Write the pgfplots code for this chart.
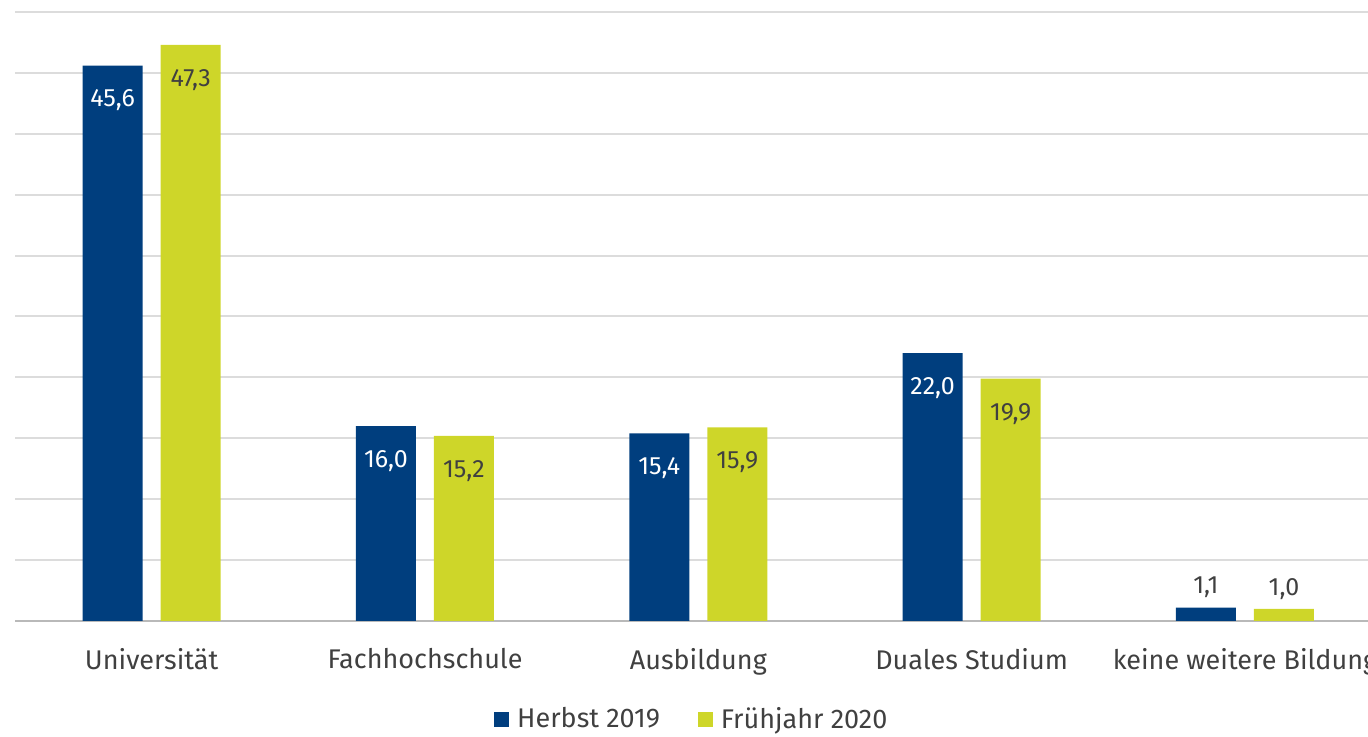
\documentclass[border=0pt]{standalone}
\usepackage{fontspec}
\setmainfont{Fira Sans}
\usepackage{pgfplots}
\pgfplotsset{compat=1.18}

\definecolor{herbst}{RGB}{0,62,126}
\definecolor{fruehjahr}{RGB}{206,214,41}
\definecolor{gridgray}{RGB}{220,220,220}
\definecolor{axisgray}{RGB}{185,185,185}
\definecolor{textgray}{RGB}{64,64,64}

% label: inside the bar, or above it (grey) when the bar is too small
\newcommand{\barlabel}{%
  \pgfmathparse{\rawy<5}%
  \ifdim\pgfmathresult pt>0.5pt\color{textgray}\fi
  \pgfmathprintnumber{\pgfplotspointmeta}}

\begin{document}
\begin{tikzpicture}
\useasboundingbox (-7.5pt,-58pt) rectangle (676.5pt,310.5pt);
\clip (-7.5pt,-58pt) rectangle (676.5pt,310.5pt);
\begin{axis}[
    at={(0,0)}, anchor=south west,
    scale only axis,
    width=683.3pt, height=304.5pt,
    ybar=9pt, bar width=30pt,
    xmin=-0.5, xmax=4.5, ymin=0, ymax=50,
    enlarge x limits=false,
    xtick=data,
    xticklabels={Universität, Fachhochschule, Ausbildung, Duales Studium, keine weitere Bildung},
    ytick={0,5,...,50}, yticklabels={},
    major tick length=0pt,
    ymajorgrids, grid style={gridgray, line width=1pt},
    extra y ticks={0}, extra y tick labels={},
    extra y tick style={grid style={axisgray, line width=1.2pt}},
    axis line style={draw=none},
    xticklabel style={font=\fontsize{13.5}{16}\selectfont, text=textgray, yshift=-10pt},
    visualization depends on={y \as \rawy},
    nodes near coords=\barlabel,
    every node near coord/.append style={font=\fontsize{12.5}{15}\selectfont, anchor=center,
      yshift={\rawy<5 ? 10 : -17.5}},
    /pgf/number format/use comma,
    /pgf/number format/fixed,
    /pgf/number format/fixed zerofill,
    /pgf/number format/precision=1,
    /pgf/number format/assume math mode=true,
    legend style={at={(0.4945,-0.161)}, anchor=center, draw=none, fill=none,
      legend columns=2, font=\fontsize{13.5}{16}\selectfont, text=textgray,
      nodes={inner sep=0pt}, cells={anchor=west},
      /tikz/every odd column/.append style={column sep=4pt},
      /tikz/every even column/.append style={column sep=19pt}},
    every axis plot post/.append style={
      legend image code/.code={\fill[##1] (0pt,-4pt) rectangle (7.5pt,3.5pt);}},
]
\addplot[fill=herbst, draw=none, nodes near coords style={text=white}]
  coordinates {(0,45.6) (1,16.0) (2,15.4) (3,22.0) (4,1.1)};
\addplot[fill=fruehjahr, draw=none, nodes near coords style={text=textgray}]
  coordinates {(0,47.3) (1,15.2) (2,15.9) (3,19.9) (4,1.0)};
\legend{Herbst 2019, Frühjahr 2020}
\end{axis}
\end{tikzpicture}
\end{document}
